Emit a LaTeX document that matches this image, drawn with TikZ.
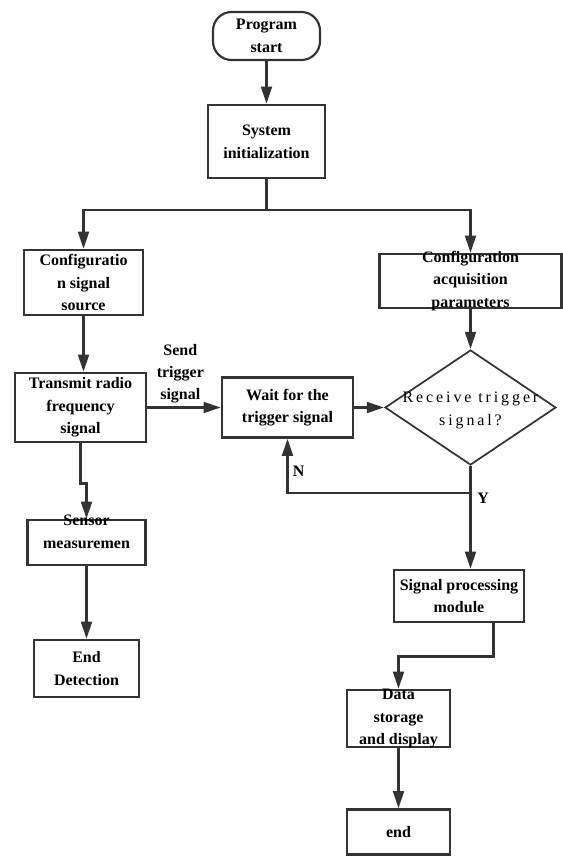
\documentclass[tikz,border=0pt]{standalone}
\usepackage{fontspec}
\setmainfont{Liberation Serif}
\newfontfamily\spacedfont[LetterSpace=18]{Liberation Serif}
\usetikzlibrary{arrows.meta, positioning, shapes.geometric}
\definecolor{flowline}{RGB}{51, 51, 51}
\newcommand{\boxfont}{\bfseries\fontsize{12}{17}\selectfont}

\begin{document}
\begin{tikzpicture}[
  x=0.75pt, y=-0.75pt,
  sz/.style 2 args={minimum width=#1*0.75pt, minimum height=#2*0.75pt},
  box/.style={draw=flowline, line width=1.6pt, fill=white, align=center, inner sep=0pt, font=\boxfont},
  term/.style={box, rounded corners=14pt},
  boxtext/.style={align=center, font=\boxfont, inner sep=0pt},
  decision/.style={diamond, draw=flowline, line width=1.3pt, inner sep=0pt},
  flow/.style={draw=flowline, line width=2.2pt, -{Triangle[width=8pt, length=13pt]}},
  link/.style={draw=flowline, line width=2.2pt},
  tag/.style={font=\bfseries\fontsize{12}{16.5}\selectfont, align=center, inner sep=1pt},
]
  \useasboundingbox (0,0) rectangle (563,856);

  % Main column
  \node[term, sz={107}{48}] (start) at (266.5,36) {Program\\start};
  \node[box, sz={117}{73}] (init) at (266.5,141.5) {System\\initialization};
  \coordinate (split) at (266.5,210);

  % Left branch: signal source
  \node[box, sz={119}{65}] (cfgsrc) at (83.5,282.5) {Configuratio\\n signal\\source};
  \node[box, sz={131}{69}] (tx) at (80.5,407.5) {Transmit radio\\frequency\\signal};
  \node[box, sz={118}{45}, label={[boxtext, yshift=8pt]center:Sensor\\measuremen}] (sensor) at (86.5,542.5) {};
  \node[box, sz={105}{57}] (enddet) at (86.5,668.5) {End\\Detection};

  % Right branch: acquisition
  \node[box, sz={182}{54}, label={[boxtext]center:Configuration\\acquisition\\parameters}] (cfgacq) at (470.5,281) {};
  \node[box, sz={131}{60}] (wait) at (287.5,407.5) {Wait for the\\trigger signal};
  \node[decision, sz={171}{115}, label={[align=center, inner sep=0pt, font=\spacedfont\fontsize{12}{17}\selectfont, yshift=-2pt]center:Receive trigger\\signal?}] (recv) at (470.5,407.5) {};
  \coordinate (loop) at (470.5,493);
  \node[box, sz={130}{52}] (sigproc) at (459,596) {Signal processing\\module};
  \node[box, sz={103}{57}, label={[boxtext]center:Data\\storage\\and display}] (data) at (398.5,718.5) {};
  \node[box, sz={103}{45}] (end) at (398.5,832) {end};

  % Connectors
  \draw[flow] (start) -- (init);
  \draw[link] (init.south) -- (split);
  \draw[flow] (split) -| (cfgsrc.north);
  \draw[flow] (split) -| (cfgacq.north);
  \draw[flow] (cfgsrc.south) -- (cfgsrc.south |- tx.north);
  \draw[flow] (tx.east) -- (wait.west)
    node[tag, pos=0.45, above=1.5pt] (send) {Send\\trigger\\signal};
  \draw[flow] (wait.east) -- (recv.west);
  \draw[flow] (cfgacq.south) -- (recv.north);
  \draw[flow] (recv.south) -- (recv.south |- sigproc.north);
  \draw[flow] (loop) -| (wait.south)
    node[tag, pos=0.7, right=2pt] (no) {N};
  \node[tag, right=4pt of loop, yshift=-4pt] (yes) {Y};
  \draw[flow] ([xshift=26pt]sigproc.south) -- ++(0,33) -| (data.north);
  \draw[flow] (data) -- (end);
  \draw[flow] (tx.south) -- ++(0,40) -| (sensor.north);
  \draw[flow] (sensor) -- (enddet);

\end{tikzpicture}
\end{document}
